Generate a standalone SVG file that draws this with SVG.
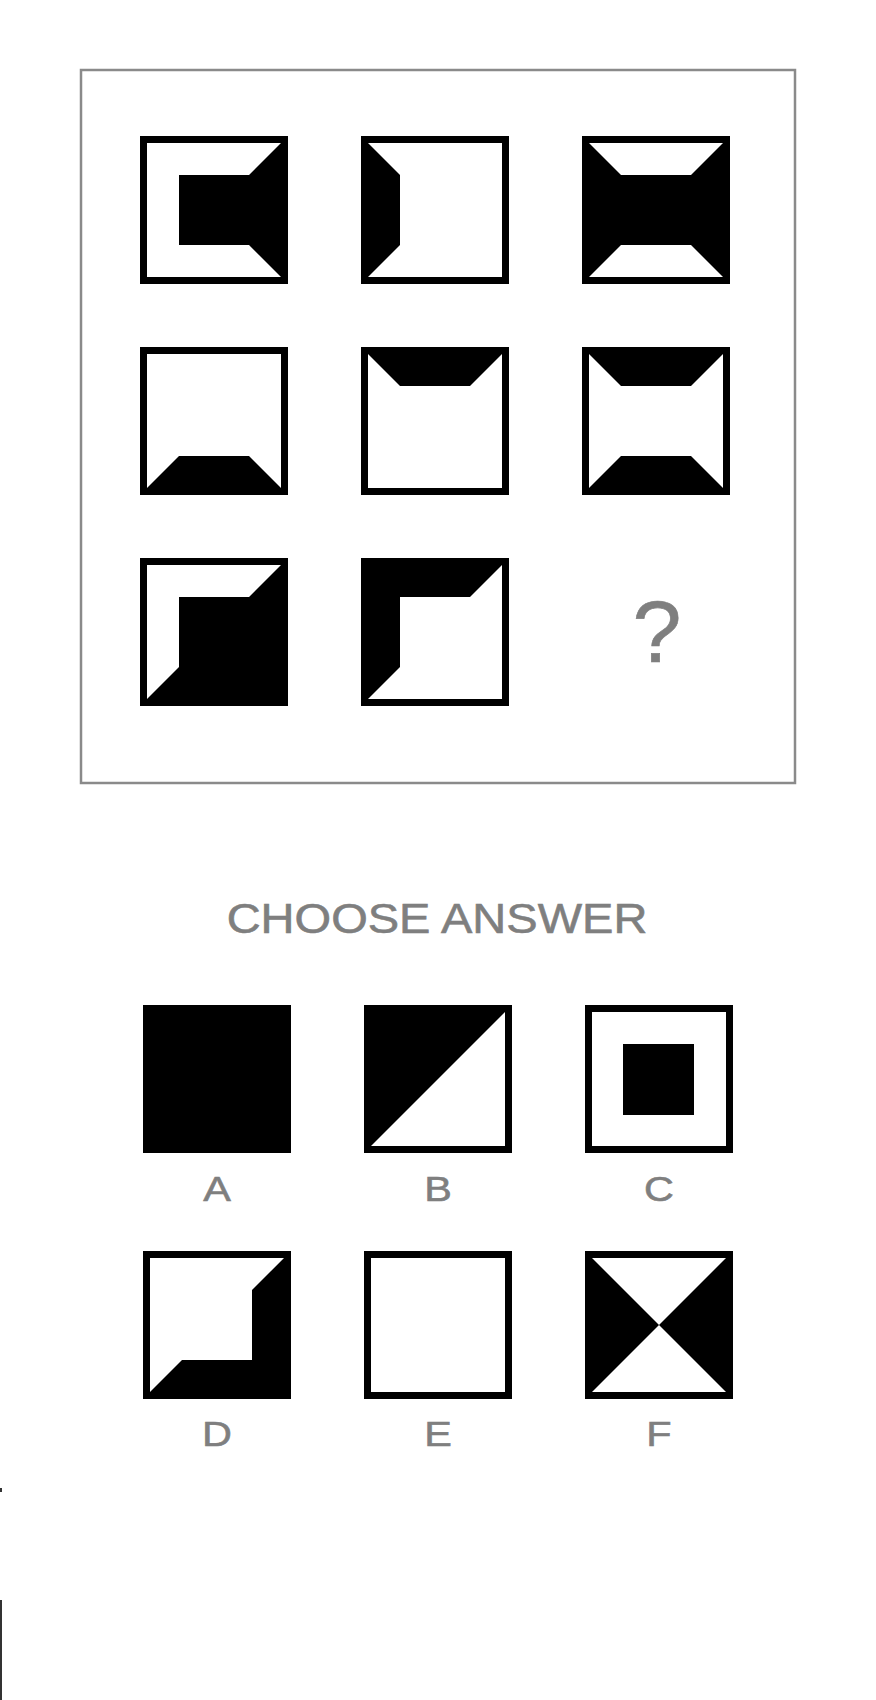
<svg xmlns="http://www.w3.org/2000/svg" width="876" height="1700" viewBox="0 0 876 1700">
<style>
.frame{fill:none;stroke:#8a8a8a;stroke-width:2.5}
.box{fill:#fff;stroke:#000;stroke-width:7}
.blk{fill:#000}
.wht{fill:#fff}
.lbl{font-family:"Liberation Sans","Noto Sans",sans-serif;fill:#7f7f7f;stroke:#7f7f7f;stroke-width:0.6;text-anchor:middle}
</style>
<rect width="876" height="1700" fill="#fff"/>
<rect class="frame" x="81" y="70" width="714" height="713"/>

<g id="r1c1">
<rect class="box" x="143.5" y="139.5" width="141" height="141"/>
<polygon class="blk" points="179,175 249,175 281,143 281,277 249,245 179,245"/>
</g>
<g id="r1c2">
<rect class="box" x="364.5" y="139.5" width="141" height="141"/>
<polygon class="blk" points="368,143 400,175 400,245 368,277"/>
</g>
<g id="r1c3">
<rect class="blk" x="582" y="136" width="148" height="148"/>
<polygon class="wht" points="589,143 723,143 691,175 621,175"/>
<polygon class="wht" points="621,245 691,245 723,277 589,277"/>
</g>

<g id="r2c1">
<rect class="box" x="143.5" y="350.5" width="141" height="141"/>
<polygon class="blk" points="179,456 249,456 281,488 147,488"/>
</g>
<g id="r2c2">
<rect class="box" x="364.5" y="350.5" width="141" height="141"/>
<polygon class="blk" points="368,354 502,354 470,386 400,386"/>
</g>
<g id="r2c3">
<rect class="box" x="585.5" y="350.5" width="141" height="141"/>
<polygon class="blk" points="589,354 723,354 691,386 621,386"/>
<polygon class="blk" points="621,456 691,456 723,488 589,488"/>
</g>

<g id="r3c1">
<rect class="box" x="143.5" y="561.5" width="141" height="141"/>
<polygon class="blk" points="281,565 249,597 179,597 179,667 147,699 281,699"/>
</g>
<g id="r3c2">
<rect class="box" x="364.5" y="561.5" width="141" height="141"/>
<polygon class="blk" points="368,565 502,565 470,597 400,597 400,667 368,699"/>
</g>
<g id="question">
<text class="lbl" x="657" y="662" font-size="88">?</text>
</g>

<g id="title">
<text class="lbl" transform="translate(437,933) scale(1.12,1)" x="0" y="0" font-size="42">CHOOSE ANSWER</text>
</g>

<g id="optA">
<rect class="blk" x="143" y="1005" width="148" height="148"/>
<text class="lbl" transform="translate(217,1201) scale(1.15,1)" font-size="36">A</text>
</g>
<g id="optB">
<rect class="box" x="367.5" y="1008.5" width="141" height="141"/>
<polygon class="blk" points="371,1012 505,1012 371,1146"/>
<text class="lbl" transform="translate(438,1201) scale(1.15,1)" font-size="36">B</text>
</g>
<g id="optC">
<rect class="box" x="588.5" y="1008.5" width="141" height="141"/>
<rect class="blk" x="623" y="1044" width="71" height="71"/>
<text class="lbl" transform="translate(659,1201) scale(1.15,1)" font-size="36">C</text>
</g>
<g id="optD">
<rect class="box" x="146.5" y="1254.5" width="141" height="141"/>
<polygon class="blk" points="284,1258 252,1290 252,1360 182,1360 150,1392 284,1392"/>
<text class="lbl" transform="translate(217,1446) scale(1.15,1)" font-size="36">D</text>
</g>
<g id="optE">
<rect class="box" x="367.5" y="1254.5" width="141" height="141"/>
<text class="lbl" transform="translate(438,1446) scale(1.15,1)" font-size="36">E</text>
</g>
<g id="optF">
<rect class="box" x="588.5" y="1254.5" width="141" height="141"/>
<polygon class="blk" points="592,1258 659,1325 592,1392"/>
<polygon class="blk" points="726,1258 726,1392 659,1325"/>
<text class="lbl" transform="translate(659,1446) scale(1.15,1)" font-size="36">F</text>
</g>

<rect x="0" y="1488" width="2" height="4" fill="#333"/>
<rect x="0" y="1600" width="2" height="100" fill="#333"/>
</svg>
